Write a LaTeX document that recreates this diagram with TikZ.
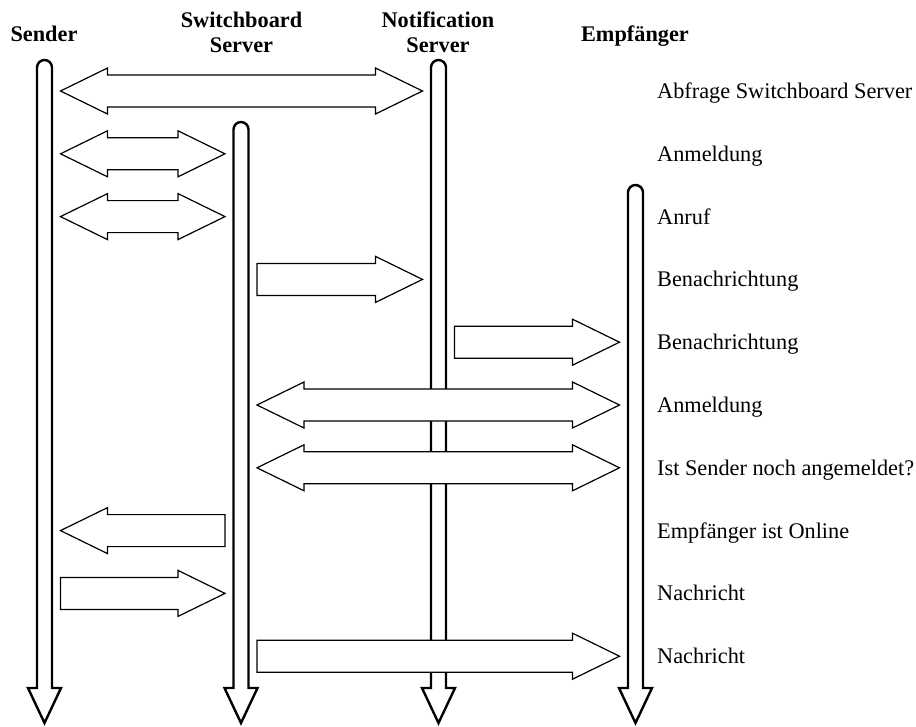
\documentclass[tikz,border=0pt]{standalone}
\usepackage{fontspec}
\setmainfont{Liberation Serif}
\usetikzlibrary{calc}

% A lifeline: round-topped shaft from its top coordinate down to the
% common bottom, ending in an open arrow head.
\newcommand\drawlifeline[1]{%
  \draw[lifeline] let \p1=(#1), \p2=(bottom) in
    (\x1-7.5pt,\y2) -- (\x1-7.5pt,\y1-7.5pt)
    arc[start angle=180,end angle=0,radius=7.5pt]
    -- (\x1+7.5pt,\y2) -- (\x1+16.5pt,\y2) -- (\x1,\y2-35pt)
    -- (\x1-16.5pt,\y2) -- cycle;}

% Block arrow pointing right, from lifeline #1 to lifeline #2 on row #3.
\newcommand\sendright[3]{%
  \draw[msg] let \p1=(#1), \p2=(#2), \p3=(#3) in
    (\x1+16pt,\y3+16pt) -- (\x2-63pt,\y3+16pt) -- (\x2-63pt,\y3+23pt)
    -- (\x2-16pt,\y3) -- (\x2-63pt,\y3-23pt) -- (\x2-63pt,\y3-16pt)
    -- (\x1+16pt,\y3-16pt) -- cycle;}

% Block arrow pointing left, from lifeline #2 back to lifeline #1 on row #3.
\newcommand\sendleft[3]{%
  \draw[msg] let \p1=(#1), \p2=(#2), \p3=(#3) in
    (\x2-16pt,\y3+16pt) -- (\x1+63pt,\y3+16pt) -- (\x1+63pt,\y3+23pt)
    -- (\x1+16pt,\y3) -- (\x1+63pt,\y3-23pt) -- (\x1+63pt,\y3-16pt)
    -- (\x2-16pt,\y3-16pt) -- cycle;}

% Block arrow with heads at both ends, between lifelines #1 and #2 on row #3.
\newcommand\sendboth[3]{%
  \draw[msg] let \p1=(#1), \p2=(#2), \p3=(#3) in
    (\x1+16pt,\y3) -- (\x1+63pt,\y3+23pt) -- (\x1+63pt,\y3+16pt)
    -- (\x2-63pt,\y3+16pt) -- (\x2-63pt,\y3+23pt) -- (\x2-16pt,\y3)
    -- (\x2-63pt,\y3-23pt) -- (\x2-63pt,\y3-16pt)
    -- (\x1+63pt,\y3-16pt) -- (\x1+63pt,\y3-23pt) -- cycle;}

\begin{document}
\begin{tikzpicture}[x=1pt,y=-1pt,
  lifeline/.style={draw=black,fill=white,line width=2.4pt,line join=miter},
  msg/.style={draw=black,fill=white,line width=1.2pt,line join=miter},
  headtext/.style={font=\fontsize{22.3}{25}\selectfont\bfseries,
                   inner sep=0pt,align=center},
  msglabel/.style={font=\fontsize{22.3}{25}\selectfont,
                   inner sep=0pt,anchor=base west}]
\useasboundingbox (0,0) rectangle (916,726);

% lifeline tops (x = centre line) and the common bottom
\coordinate (S)  at (44.5,60);
\coordinate (SB) at (241,122);
\coordinate (NS) at (438.5,60);
\coordinate (E)  at (635.5,185);
\coordinate (bottom) at (0,688);

% message rows
\foreach \i in {1,...,10} {
  \coordinate (r\i) at (0,{91+62.8*(\i-1)});
}
\coordinate (lab) at (657,0);

% headers
\node[headtext,anchor=base]  (hS)  at (44,41)    {Sender};
\node[headtext,anchor=north] (hSB) at (241.5,12) {Switchboard\\Server};
\node[headtext,anchor=north] (hNS) at (438,12)   {Notification\\Server};
\node[headtext,anchor=base]  (hE)  at (635,41)   {Empfänger};

% lifelines
\drawlifeline{S}
\drawlifeline{SB}
\drawlifeline{NS}
\drawlifeline{E}

% messages
\sendboth{S}{NS}{r1}
\sendboth{S}{SB}{r2}
\sendboth{S}{SB}{r3}
\sendright{SB}{NS}{r4}
\sendright{NS}{E}{r5}
\sendboth{SB}{E}{r6}
\sendboth{SB}{E}{r7}
\sendleft{S}{SB}{r8}
\sendright{S}{SB}{r9}
\sendright{SB}{E}{r10}

% message labels
\node[msglabel] (t1)  at ($(lab|-r1)+(0,7.5)$)  {Abfrage Switchboard Server};
\node[msglabel] (t2)  at ($(lab|-r2)+(0,7.5)$)  {Anmeldung};
\node[msglabel] (t3)  at ($(lab|-r3)+(0,7.5)$)  {Anruf};
\node[msglabel] (t4)  at ($(lab|-r4)+(0,7.5)$)  {Benachrichtung};
\node[msglabel] (t5)  at ($(lab|-r5)+(0,7.5)$)  {Benachrichtung};
\node[msglabel] (t6)  at ($(lab|-r6)+(0,7.5)$)  {Anmeldung};
\node[msglabel] (t7)  at ($(lab|-r7)+(0,7.5)$)  {Ist Sender noch angemeldet?};
\node[msglabel] (t8)  at ($(lab|-r8)+(0,7.5)$)  {Empfänger ist Online};
\node[msglabel] (t9)  at ($(lab|-r9)+(0,7.5)$)  {Nachricht};
\node[msglabel] (t10) at ($(lab|-r10)+(0,7.5)$) {Nachricht};
\end{tikzpicture}
\end{document}
